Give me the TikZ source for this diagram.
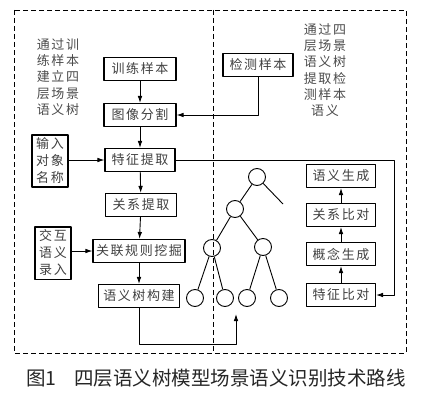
\documentclass[tikz,border=0pt]{standalone}
\usepackage{fontspec}
\setmainfont{Noto Sans CJK SC}
\newfontfamily\spacedcjk[LetterSpace=12]{Noto Sans CJK SC}
\usetikzlibrary{arrows.meta}
\tikzset{
  every picture/.style={
    line join=round,
    >={Latex[length=7pt,width=4.6pt]},  % one arrow tip everywhere
  },
  procbox/.style={draw, line width=1.1pt, inner xsep=2pt, inner ysep=4pt,
    minimum height=23pt, font=\spacedcjk\fontsize{13}{15}\selectfont, text=black!75},
  sidebox/.style={draw, line width=1.1pt, align=center, text width=29pt, inner xsep=3.5pt,
    inner ysep=3pt, font=\spacedcjk\fontsize{13}{17}\selectfont, text=black!75},
  sidetext/.style={align=center, font=\spacedcjk\fontsize{13}{16.3}\selectfont, text=black!70},
  treenode/.style={draw, circle, minimum size=17pt, inner sep=0pt, line width=0.9pt},
  link/.style={line width=0.9pt},
}

\begin{document}
\begin{tikzpicture}[x=1pt,y=-1pt]
    \useasboundingbox (0,0) rectangle (422,404);
    % Frame
    \draw[dashed, line width=0.8pt, dash pattern=on 5pt off 3pt] (14,10) rectangle (406,353);
    \draw[dashed, line width=0.8pt, dash pattern=on 5pt off 3pt] (213,10) -- (213,353);
    % Notes
    \node[sidetext] (trainnote) at (58,77) {通过训\\练样本\\建立四\\层场景\\语义树};
    \node[sidetext] (testnote) at (325,70) {通过四\\层场景\\语义树\\提取检\\测样本\\语义};
    % Training chain
    \node[procbox, minimum width=72pt] (train) at (140,69) {训练样本};
    \node[procbox, minimum width=72pt] (seg) at (140,115) {图像分割};
    \node[procbox, minimum width=70pt] (feat) at (140,160) {特征提取};
    \node[procbox, minimum width=71pt] (rel) at (141,205) {关系提取};
    \node[procbox, minimum width=92pt] (mine) at (139,251) {关联规则挖掘};
    \node[procbox, minimum width=81pt] (build) at (139,296) {语义树构建};
    \node[sidebox] (objname) at (50,161) {输入\\对象\\名称};
    \node[sidebox] (interact) at (53,253) {交互\\语义\\录入};
    % Test chain
    \node[procbox, minimum width=70pt] (test) at (258,65) {检测样本};
    \node[procbox, minimum width=69pt] (fcmp) at (341,295) {特征比对};
    \node[procbox, minimum width=69pt] (concept) at (341,254) {概念生成};
    \node[procbox, minimum width=69pt] (rcmp) at (341,215) {关系比对};
    \node[procbox, minimum width=69pt] (semgen) at (341,176) {语义生成};
    % Tree
    \node[treenode] (root) at (257,177) {};
    \node[treenode] (mid) at (235,209) {};
    \coordinate (open) at (283,204);
    \node[treenode] (lowL) at (212,248) {};
    \node[treenode] (lowR) at (263,247) {};
    \node[treenode] (leafA) at (195,298) {};
    \node[treenode] (leafB) at (225,298) {};
    \node[treenode] (leafC) at (247,298) {};
    \node[treenode] (leafD) at (279,298) {};
    \draw[link] (root) -- (mid);
    \draw[link] (root) -- (open);
    \draw[link] (mid) -- (lowL);
    \draw[link] (mid) -- (lowR);
    \draw[link] (lowL) -- (leafA);
    \draw[link] (lowL) -- (leafB);
    \draw[link] (lowR) -- (leafC);
    \draw[link] (lowR) -- (leafD);
    \coordinate (treein) at (236,314);
    \coordinate (turn) at (394,160);
    % Arrows
    \draw[link, ->] (train) -- (seg);
    \draw[link, ->] (seg) -- (feat);
    \draw[link, ->] (feat) -- (rel);
    \draw[link, ->] (rel) -- (mine);
    \draw[link, ->] (mine) -- (build);
    \draw[link, ->] (objname.east |- feat) -- (feat.west);
    \draw[link, ->] (interact.east |- mine) -- (mine.west);
    \draw[link, ->] (test.south) |- (seg.east);
    \draw[link, ->] (feat.east) -- (turn) |- (fcmp.east);
    \draw[link, ->] (build.south) -- ++(0,36) -| (treein);
    \draw[link, ->] (fcmp) -- (concept);
    \draw[link, ->] (concept) -- (rcmp);
    \draw[link, ->] (rcmp) -- (semgen);
    % Caption
    \node[font=\fontsize{19.5}{20}\selectfont, text=black!85] (caption) at (216,378)
      {图1\hspace{0.9em}四层语义树模型场景语义识别技术路线};
\end{tikzpicture}
\end{document}
